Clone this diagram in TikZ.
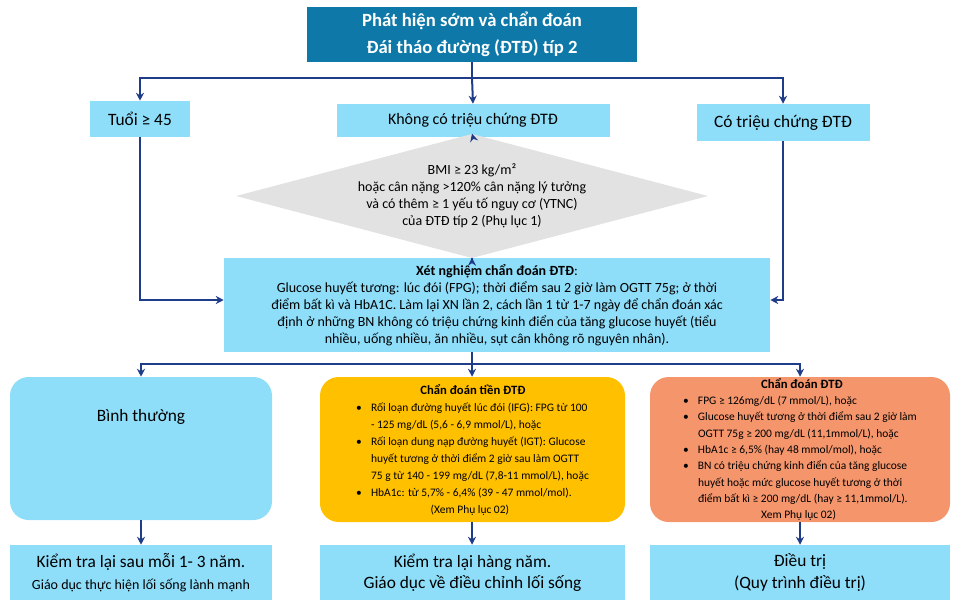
\documentclass[tikz,border=0pt]{standalone}
\usepackage{fontspec}
\setmainfont{Carlito}
\usetikzlibrary{shapes.geometric, arrows.meta}

\definecolor{titleblue}{HTML}{0E79A8}
\definecolor{lightblue}{HTML}{8EDDF9}
\definecolor{navy}{HTML}{1F3C88}
\definecolor{amber}{HTML}{FFC000}
\definecolor{salmon}{HTML}{F4956C}
\definecolor{lightgray}{HTML}{E2E2E2}

\newcommand{\itm}{\makebox[1.3em][l]{\textbullet}}
\newcommand{\cnt}{\hspace*{1.3em}}

\begin{document}
\begin{tikzpicture}[x=0.75pt, y=-0.75pt,
    box/.style={draw=none, fill=lightblue, inner sep=0pt, font=\fontsize{13}{15}\selectfont},
    rbox/.style={draw=none, rounded corners=14pt, inner sep=0pt},
    arr/.style={navy, line width=1.5pt, -{Stealth[length=6pt, width=6pt]}},
    ln/.style={navy, line width=1.5pt}]
  \useasboundingbox (0,0) rectangle (962,614);

  % top row
  \node[box, fill=titleblue, text=white, minimum width=330*0.75pt, minimum height=55*0.75pt,
        align=center, font=\bfseries\fontsize{14}{20}\selectfont] (title) at (472,34.5)
        {Phát hiện sớm và chẩn đoán\\Đái tháo đường (ĐTĐ) típ 2};
  \node[box, minimum width=100*0.75pt, minimum height=36*0.75pt] (age) at (140,119) {Tuổi ≥ 45};
  \node[box, minimum width=273*0.75pt, minimum height=33*0.75pt, font=\fontsize{12}{14}\selectfont] (nosym) at (473,120.5) {Không có triệu chứng ĐTĐ};
  \node[box, minimum width=173*0.75pt, minimum height=37*0.75pt] (sym) at (783,122.5) {Có triệu chứng ĐTĐ};

  \node[diamond, fill=lightgray, minimum width=366*0.75pt, minimum height=96*0.75pt, inner sep=0pt,
        aspect=3.8, align=center, font=\fontsize{10.5}{12.75}\selectfont] (bmi) at (472,196)
        {BMI ≥ 23 kg/m²\\hoặc cân nặng >120\% cân nặng lý tưởng\\và có thêm ≥ 1 yếu tố nguy cơ (YTNC)\\của ĐTĐ típ 2 (Phụ lục 1)};

  \node[box, minimum width=546*0.75pt, minimum height=94*0.75pt, align=center,
        font=\fontsize{10.5}{12.75}\selectfont] (test) at (497,305)
        {\textbf{Xét nghiệm chẩn đoán ĐTĐ}:\\
         Glucose huyết tương: lúc đói (FPG); thời điểm sau 2 giờ làm OGTT 75g; ở thời\\
         điểm bất kì và HbA1C. Làm lại XN lần 2, cách lần 1 từ 1-7 ngày để chẩn đoán xác\\
         định ở những BN không có triệu chứng kinh điển của tăng glucose huyết (tiểu\\
         nhiều, uống nhiều, ăn nhiều, sụt cân không rõ nguyên nhân).};

  % result row
  \node[rbox, fill=lightblue, minimum width=262*0.75pt, minimum height=143*0.75pt] (normal) at (141,448.5) {};
  \node[font=\fontsize{13}{15}\selectfont] (normaltxt) at (141,417) {Bình thường};
  \node[rbox, fill=amber, minimum width=305*0.75pt, minimum height=145*0.75pt, align=left,
        font=\fontsize{8.6}{12.75}\selectfont] (pre) at (472.5,449.5)
        {\hspace*{5.6em}\textbf{\fontsize{9.5}{12.75}\selectfont Chẩn đoán tiền ĐTĐ}\\
         \itm Rối loạn đường huyết lúc đói (IFG): FPG từ 100\\
         \cnt - 125 mg/dL (5,6 - 6,9 mmol/L), hoặc\\
         \itm Rối loạn dung nạp đường huyết (IGT): Glucose\\
         \cnt huyết tương ở thời điểm 2 giờ sau làm OGTT\\
         \cnt 75 g từ 140 - 199 mg/dL (7,8-11 mmol/L), hoặc\\
         \itm HbA1c: từ 5,7\% - 6,4\% (39 - 47 mmol/mol).\\
         \hspace*{6.5em}(Xem Phụ lục 02)};
  \node[rbox, fill=salmon, minimum width=300*0.75pt, minimum height=145*0.75pt, align=left,
        font=\fontsize{8.6}{12.2}\selectfont] (dm) at (800,449.5)
        {\hspace*{6.8em}\textbf{\fontsize{9.5}{12.2}\selectfont Chẩn đoán ĐTĐ}\\
         \itm FPG ≥ 126mg/dL (7 mmol/L), hoặc\\
         \itm Glucose huyết tương ở thời điểm sau 2 giờ làm\\
         \cnt OGTT 75g ≥ 200 mg/dL (11,1mmol/L), hoặc\\
         \itm HbA1c ≥ 6,5\% (hay 48 mmol/mol), hoặc\\
         \itm BN có triệu chứng kinh điển của tăng glucose\\
         \cnt huyết hoặc mức glucose huyết tương ở thời\\
         \cnt điểm bất kì ≥ 200 mg/dL (hay ≥ 11,1mmol/L).\\
         \hspace*{6.8em}Xem Phụ lục 02)};

  % bottom row
  \node[box, minimum width=262*0.75pt, minimum height=55*0.75pt, align=center] (recheck) at (141,572.5)
        {Kiểm tra lại sau mỗi 1- 3 năm.\\[1pt]{\fontsize{10.5}{13}\selectfont Giáo dục thực hiện lối sống lành mạnh}};
  \node[box, minimum width=305*0.75pt, minimum height=55*0.75pt, align=center] (yearly) at (472.5,572.5)
        {Kiểm tra lại hàng năm.\\[1pt]Giáo dục về điều chỉnh lối sống};
  \node[box, minimum width=300*0.75pt, minimum height=55*0.75pt, align=center] (treat) at (800,572.5)
        {Điều trị\\[1pt](Quy trình điều trị)};

  % connectors
  \coordinate (split) at (472,78);
  \draw[ln] (title.south) -- (split);
  \draw[arr] (split) -| (age.north);
  \draw[arr] (split) -| (sym.north);
  \draw[arr] (split) -- (nosym.north);
  \draw[arr] (nosym.south) -- (bmi.north);
  \draw[arr] (bmi.south) -- (test.north -| bmi.south);
  \draw[arr] (age.south) |- (test.west |- 0,300);
  \draw[arr] (sym.south) |- (test.east |- 0,300);
  \coordinate (split2) at (472,364);
  \draw[ln] (test.south -| split2) -- (split2);
  \draw[arr] (split2) -| (normal.north);
  \draw[arr] (split2) -| (dm.north);
  \draw[arr] (split2) -- (pre.north -| split2);
  \draw[arr] (normal.south) -- (recheck.north);
  \draw[arr] (pre.south -| split2) -- (yearly.north -| split2);
  \draw[arr] (dm.south) -- (treat.north);
\end{tikzpicture}
\end{document}
